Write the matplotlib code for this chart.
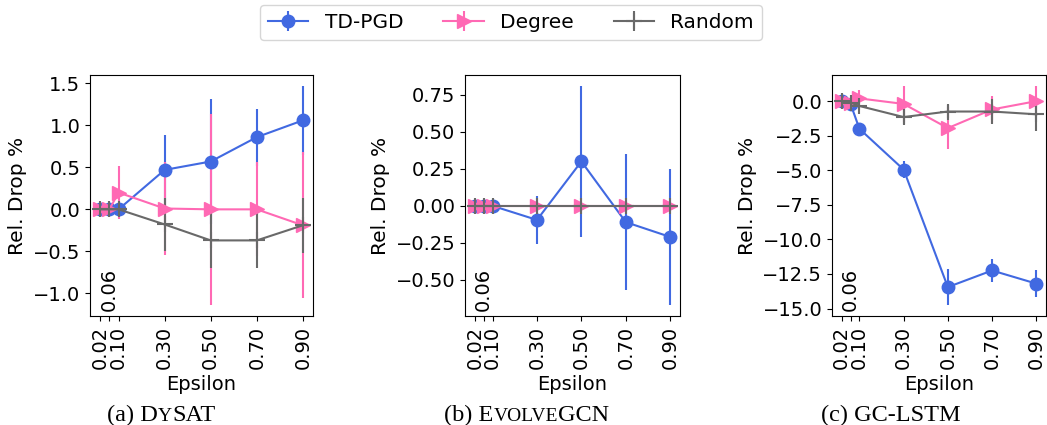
import matplotlib
matplotlib.use('Agg')
import matplotlib.pyplot as plt
import matplotlib.transforms as mtransforms
from matplotlib.ticker import MultipleLocator

# epsilon values and tick labels
eps = [0.02, 0.06, 0.10, 0.30, 0.50, 0.70, 0.90]
tick_labels = ['0.02', '', '0.10', '0.30', '0.50', '0.70', '0.90']

# (a) DySAT
dysat_tdpgd = [0.0, 0.0, 0.0, 0.47, 0.57, 0.86, 1.06]
dysat_tdpgd_err = [0.02, 0.02, 0.02, 0.42, 0.74, 0.34, 0.41]
dysat_degree = [0.0, 0.0, 0.20, 0.01, 0.0, 0.0, -0.19]
dysat_degree_err = [0.02, 0.02, 0.32, 0.55, 1.14, 0.56, 0.87]
dysat_random = [0.0, 0.0, 0.0, -0.18, -0.37, -0.37, -0.19]
dysat_random_err = [0.04, 0.04, 0.04, 0.32, 0.33, 0.33, 0.33]

# (b) EvolveGCN
evolve_tdpgd = [0.0, 0.0, 0.0, -0.095, 0.30, -0.11, -0.21]
evolve_tdpgd_err = [0.0, 0.0, 0.0, 0.165, 0.51, 0.46, 0.46]
evolve_degree = [0.0, 0.0, 0.0, 0.0, 0.0, 0.0, 0.0]
evolve_degree_err = [0.0, 0.0, 0.0, 0.0, 0.0, 0.0, 0.0]
evolve_random = [0.0, 0.0, 0.0, 0.0, 0.0, 0.0, 0.0]
evolve_random_err = [0.0, 0.0, 0.0, 0.0, 0.0, 0.0, 0.0]

# (c) GC-LSTM
gclstm_tdpgd = [0.0, -0.2, -2.0, -4.95, -13.45, -12.25, -13.2]
gclstm_tdpgd_err = [0.1, 0.1, 0.4, 0.6, 1.3, 0.8, 1.0]
gclstm_degree = [0.0, -0.1, 0.2, -0.2, -1.95, -0.6, 0.0]
gclstm_degree_err = [0.1, 0.2, 0.6, 1.3, 1.5, 1.0, 1.1]
gclstm_random = [0.0, -0.1, -0.35, -1.15, -0.75, -0.75, -0.95]
gclstm_random_err = [0.1, 0.2, 0.3, 0.5, 0.5, 0.9, 1.2]

panels = [
    (dysat_tdpgd, dysat_tdpgd_err, dysat_degree, dysat_degree_err, dysat_random, dysat_random_err),
    (evolve_tdpgd, evolve_tdpgd_err, evolve_degree, evolve_degree_err, evolve_random, evolve_random_err),
    (gclstm_tdpgd, gclstm_tdpgd_err, gclstm_degree, gclstm_degree_err, gclstm_random, gclstm_random_err),
]
ytick_steps = [0.5, 0.25, 2.5]
# captions: list of (text, small) pieces to fake small caps
captions = [
    [('(a) D', False), ('Y', True), ('SAT', False)],
    [('(b) E', False), ('VOLVE', True), ('GCN', False)],
    [('(c) GC-LSTM', False)],
]
caption_x = [161, 527, 891]

plt.rcParams['font.size'] = 14
W, H = 1047, 425
fig = plt.figure(figsize=(W / 100, H / 100), dpi=100)

# axes rectangles in pixels: left, right, top, bottom
rects = [(90, 313, 75, 316), (465, 680, 75, 316), (832, 1046, 75, 316)]

for (l, r, t, b), data, step in zip(rects, panels, ytick_steps):
    ax = fig.add_axes([l / W, (H - b) / H, (r - l) / W, (b - t) / H])
    td, tde, dg, dge, rd, rde = data
    h1 = ax.errorbar(eps, td, yerr=tde, color='royalblue', marker='o', markersize=9,
                     linewidth=1.5, elinewidth=1.5, label='TD-PGD')
    h2 = ax.errorbar(eps, dg, yerr=dge, color='hotpink', marker='>', markersize=10,
                     linewidth=1.5, elinewidth=1.5, label='Degree')
    h3 = ax.errorbar(eps, rd, yerr=rde, color='dimgray', marker='+', markersize=12,
                     markeredgewidth=1.5, linewidth=1.5, elinewidth=1.5, label='Random')
    ax.set_xticks(eps)
    ax.set_xticklabels(tick_labels, rotation=90)
    ax.yaxis.set_major_locator(MultipleLocator(step))
    # the 0.06 label sits inside the axes
    trans = mtransforms.blended_transform_factory(ax.transData, ax.transAxes)
    ax.text(0.06, 0.02, '0.06', rotation=90, ha='center', va='bottom', transform=trans)
    ax.set_xlabel('Epsilon')
    ax.set_ylabel('Rel. Drop %', fontsize=14.5)

fig.legend(handles=[h1, h2, h3], loc='upper center', bbox_to_anchor=(511 / W, 1 - 5 / H),
           borderaxespad=0, ncol=3, fontsize=14.5, frameon=True, fancybox=True,
           edgecolor='#cccccc')

# captions with fake small caps
fig.canvas.draw()
renderer = fig.canvas.get_renderer()
for cx, pieces in zip(caption_x, captions):
    texts = []
    for s, small in pieces:
        txt = fig.text(0, 0, s, family='Liberation Serif', fontsize=14 if small else 17.5,
                       va='baseline', ha='left')
        texts.append(txt)
    widths = [tx.get_window_extent(renderer).width for tx in texts]
    x = cx - sum(widths) / 2
    for tx, w in zip(texts, widths):
        tx.set_position((x / W, 1 - 421 / H))
        x += w

plt.savefig('out.png', dpi=100)
